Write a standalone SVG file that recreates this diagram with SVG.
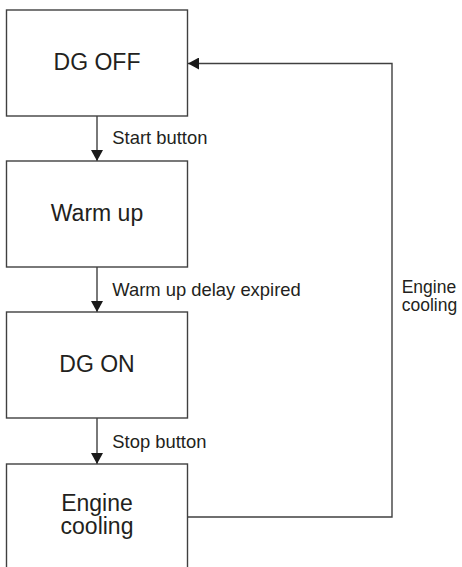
<svg xmlns="http://www.w3.org/2000/svg" width="462" height="567" viewBox="0 0 462 567">
<style>
.box{fill:#fff;stroke:#404040;stroke-width:1.4}
.t{font-family:"Liberation Sans",Arial,sans-serif;font-size:23px;fill:#231f20;text-anchor:middle}
.l{font-family:"Liberation Sans",Arial,sans-serif;font-size:18.4px;fill:#231f20}
.r{font-family:"Liberation Sans",Arial,sans-serif;font-size:17.5px;fill:#231f20}
.c{fill:none;stroke:#404040;stroke-width:1.4}
</style>
<defs>
<marker id="ah" markerWidth="11" markerHeight="12" refX="11" refY="6" orient="auto" markerUnits="userSpaceOnUse">
<path d="M0,0 L11,6 L0,12 Z" fill="#1a1a1a"/>
</marker>
</defs>
<rect width="462" height="567" fill="#fff"/>
<g id="connectors">
<line class="c" x1="97" y1="116" x2="97" y2="161" marker-end="url(#ah)"/>
<line class="c" x1="97" y1="267" x2="97" y2="312" marker-end="url(#ah)"/>
<line class="c" x1="97" y1="418" x2="97" y2="464" marker-end="url(#ah)"/>
<polyline class="c" points="188,517 392,517 392,63.5 188,63.5" marker-end="url(#ah)"/>
<text class="l" x="112.3" y="144.3">Start button</text>
<text class="l" x="112.3" y="296">Warm up delay expired</text>
<text class="l" x="112.3" y="447.7">Stop button</text>
<text class="r" x="401.7" y="293.3">Engine<tspan x="401.7" y="310.7">cooling</tspan></text>
</g>
<g id="dg-off">
<rect class="box" x="6.5" y="10" width="181" height="106"/>
<text class="t" x="97" y="69.5">DG OFF</text>
</g>
<g id="warm-up">
<rect class="box" x="6.5" y="161" width="181" height="106"/>
<text class="t" x="97" y="220.7">Warm up</text>
</g>
<g id="dg-on">
<rect class="box" x="6.5" y="312" width="181" height="106"/>
<text class="t" x="97" y="371.7">DG ON</text>
</g>
<g id="engine-cooling">
<rect class="box" x="6.5" y="464" width="181" height="106"/>
<text class="t" x="97" y="511">Engine<tspan x="97" y="534.3">cooling</tspan></text>
</g>
</svg>
